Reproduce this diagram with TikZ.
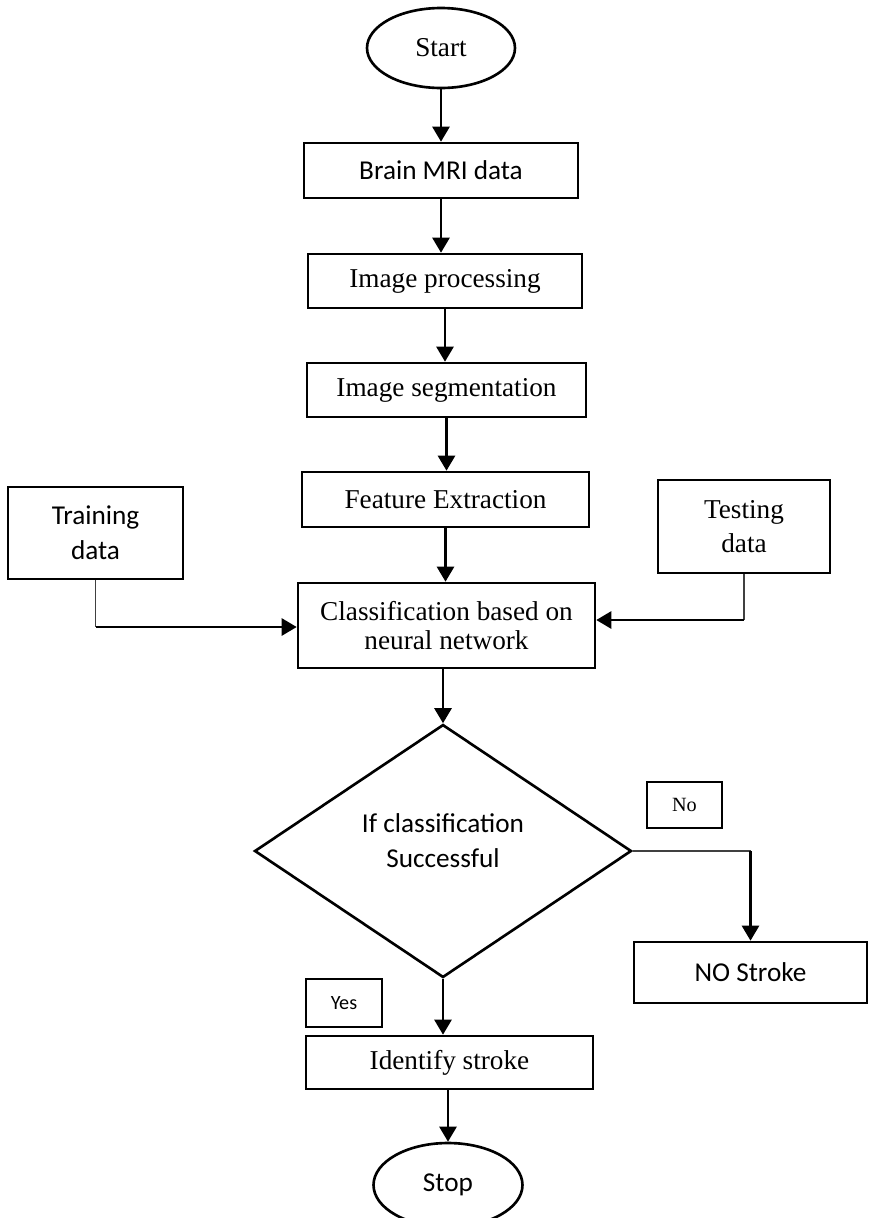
\documentclass[tikz,border=0pt]{standalone}
\usepackage{fontspec}
\setmainfont{Liberation Serif}
\newfontfamily\calibri{Carlito}
\usetikzlibrary{shapes.geometric}
\usetikzlibrary{arrows.meta}
\tikzset{% flowchart looks
  procbox/.style={draw, line width=1.5pt, rectangle, inner sep=0pt, align=center,
    font=\fontsize{15.5}{17}\selectfont},
  termnode/.style={draw, line width=1.5pt, ellipse, inner sep=0pt,
    font=\fontsize{15.5}{17}\selectfont},
  decnode/.style={draw, line width=1.5pt, diamond, inner sep=0pt, align=center,
    font=\fontsize{15.5}{20}\selectfont\calibri},
  notebox/.style={draw, line width=0.7pt, rectangle, inner sep=0pt,
    font=\fontsize{11.5}{13}\selectfont},
  flowarrow/.style={line width=1.5pt, -{Triangle[length=0.3cm,width=0.34cm]}},
  thinline/.style={line width=0.9pt, black!75}
}

\begin{document}
\begin{tikzpicture}[x=0.02cm, y=-0.02cm]
\useasboundingbox (0,0) rectangle (869,1218);

\node[termnode, minimum width=2.96cm, minimum height=1.6cm] (start) at (441,48) {Start};
\node[procbox, minimum width=5.48cm, minimum height=1.1cm, font=\fontsize{15.5}{17}\selectfont\calibri] (mri) at (441,170.5) {Brain MRI data};
\node[procbox, minimum width=5.48cm, minimum height=1.08cm] (improc) at (445,281) {Image processing};
\node[procbox, minimum width=5.58cm, minimum height=1.08cm] (imseg) at (446.5,390) {Image segmentation};
\node[procbox, minimum width=5.74cm, minimum height=1.1cm] (feat) at (445.5,499.5) {Feature Extraction};
\node[procbox, minimum width=5.94cm, minimum height=1.7cm] (class) at (446.5,625.5) {Classification based on\\neural network};

\node[procbox, minimum width=3.5cm, minimum height=1.84cm, font=\fontsize{15.5}{20}\selectfont\calibri] (train) at (95.5,533) {Training\\data};
\node[procbox, minimum width=3.44cm, minimum height=1.86cm, font=\fontsize{15.5}{19}\selectfont] (test) at (744,526.5) {Testing\\data};

\node[decnode, minimum width=7.54cm, minimum height=5.06cm] (dec) at (443,851) {If classification\\Successful\\[-8pt]};
\node[notebox, minimum width=1.5cm, minimum height=0.92cm] (nolab) at (684.5,805) {No};
\node[notebox, minimum width=1.52cm, minimum height=0.96cm, font=\fontsize{11.5}{13}\selectfont\calibri] (yeslab) at (344,1003) {Yes};
\node[procbox, minimum width=4.66cm, minimum height=1.22cm, font=\fontsize{15.5}{17}\selectfont\calibri] (nostroke) at (750.5,972.5) {NO Stroke};
\node[procbox, minimum width=5.74cm, minimum height=1.06cm] (ident) at (449.5,1062.5) {Identify stroke};
\node[termnode, minimum width=2.98cm, minimum height=1.68cm, font=\fontsize{15.5}{17}\selectfont\calibri] (stop) at (448,1185) {Stop};

\coordinate (trcorner) at (train.south |- 0,627);
\coordinate (tecorner) at (test.south |- 0,620);
\coordinate (nocorner) at (nostroke.north |- dec.east);

\draw[flowarrow] (start.south) -- (start.south |- mri.north);
\draw[flowarrow] (mri.south) -- (mri.south |- improc.north);
\draw[flowarrow] (improc.south) -- (improc.south |- imseg.north);
\draw[flowarrow] (imseg.south) -- (imseg.south |- feat.north);
\draw[flowarrow] (feat.south) -- (feat.south |- class.north);
\draw[flowarrow] (dec.north |- class.south) -- (dec.north);
\draw[thinline] (train.south) -- (trcorner);
\draw[flowarrow] (trcorner) -- (trcorner -| class.west);
\draw[thinline] (test.south) -- (tecorner);
\draw[flowarrow] (tecorner) -- (tecorner -| class.east);
\draw[thinline] (dec.east) -- (nocorner);
\draw[flowarrow] (nocorner) -- (nostroke.north);
\draw[flowarrow] (dec.south) -- (dec.south |- ident.north);
\draw[flowarrow] (stop.north |- ident.south) -- (stop.north);
\end{tikzpicture}
\end{document}
